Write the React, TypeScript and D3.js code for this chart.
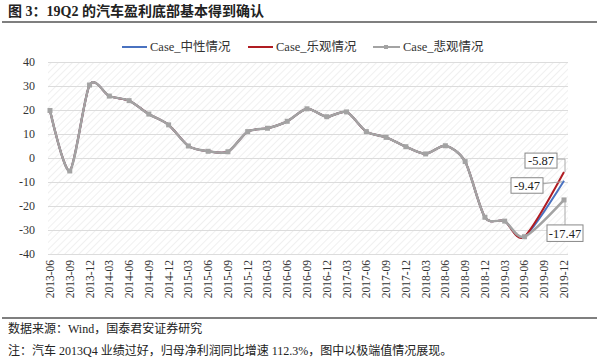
import * as d3 from "d3";

const quarters = [
  "2013-06", "2013-09", "2013-12",
  "2014-03", "2014-06", "2014-09", "2014-12",
  "2015-03", "2015-06", "2015-09", "2015-12",
  "2016-03", "2016-06", "2016-09", "2016-12",
  "2017-03", "2017-06", "2017-09", "2017-12",
  "2018-03", "2018-06", "2018-09", "2018-12",
  "2019-03", "2019-06", "2019-09", "2019-12",
];

// actual history up to 2019-06; 2019-09 is empty, 2019-12 is the scenario
const history = [
  19.8, -5.4, 30.4, 25.8, 23.9, 18.3, 13.8, 5.0, 2.8, 2.6, 11.0, 12.4, 15.3,
  20.5, 17.2, 19.2, 11.0, 8.6, 4.7, 1.7, 5.1, -1.5, -24.7, -26.3, -32.8,
];
const neutral: (number | null)[] = [...history, null, -9.47];
const optimistic: (number | null)[] = [...history, null, -5.87];
const pessimistic: (number | null)[] = [...history, null, -17.47];

const yTicks = [40, 30, 20, 10, 0, -10, -20, -30, -40];

const FONT = "'Liberation Serif', 'Times New Roman', 'Noto Sans CJK SC', serif";
const CJK = "'Liberation Serif', 'Noto Sans CJK SC', serif";
const BLUE = "#4a72c0";
const RED = "#b01c22";
const GRAY = "#a3a3a3";
const GRID = "#dcdcdc";
const INK = "#333";

const W = 600;
const H = 361;
const PL = 48;
const PR = 568;
const PT = 62;
const PB = 254;

export default function App() {
  const x = d3.scalePoint<string>().domain(quarters).range([50, 564]);
  const y = d3.scaleLinear().domain([-40, 40]).range([PB, PT]);

  const line = d3
    .line<[string, number]>()
    .x((d) => x(d[0]) as number)
    .y((d) => y(d[1]))
    .curve(d3.curveCardinal.tension(0.2));

  // Excel joins across the empty quarter, so drop the nulls
  const path = (vals: (number | null)[]) =>
    line(
      vals
        .map((v, i) => [quarters[i], v] as [string, number | null])
        .filter((d): d is [string, number] => d[1] != null)
    ) ?? "";

  const last = quarters[quarters.length - 1];
  const xe = x(last) as number;
  const yOpt = y(optimistic[optimistic.length - 1] as number);
  const yNeu = y(neutral[neutral.length - 1] as number);
  const yPes = y(pessimistic[pessimistic.length - 1] as number);

  return (
    <svg width={W} height={H} style={{ position: "absolute", left: 0, top: 0, background: "#fff" }}>
      <defs>
        <pattern id="hatch" width={5} height={5} patternUnits="userSpaceOnUse" patternTransform="rotate(45)">
          <line x1={0} y1={0} x2={0} y2={5} stroke="#e6e6e6" strokeWidth={1.2} />
        </pattern>
      </defs>

      {/* title */}
      <text x={8} y={16} fontSize={14} fontWeight={700} fill="#222" fontFamily={CJK}>
        图 3：19Q2 的汽车盈利底部基本得到确认
      </text>
      <line x1={2} x2={597} y1={22} y2={22} stroke="#555" strokeWidth={1.3} />

      {/* legend */}
      <g fontSize={12.5} fill={INK} fontFamily={CJK}>
        <line x1={122} x2={147} y1={47} y2={47} stroke={BLUE} strokeWidth={2} />
        <text x={150} y={51}>Case_中性情况</text>
        <line x1={248} x2={273} y1={47} y2={47} stroke={RED} strokeWidth={2} />
        <text x={276} y={51}>Case_乐观情况</text>
        <line x1={373} x2={400} y1={47} y2={47} stroke={GRAY} strokeWidth={2} />
        <rect x={384} y={45} width={4} height={4} fill={GRAY} />
        <text x={403} y={51}>Case_悲观情况</text>
      </g>

      {/* plot area */}
      <rect x={PL} y={PT} width={PR - PL} height={PB - PT} fill="url(#hatch)" />
      {yTicks.map((t) => (
        <g key={t}>
          <line x1={PL} x2={PR} y1={y(t)} y2={y(t)} stroke={GRID} strokeWidth={1} shapeRendering="crispEdges" />
          <text x={35} y={y(t) + 4} textAnchor="end" fontSize={12} fill={INK} fontFamily={FONT}>
            {t}
          </text>
        </g>
      ))}

      {/* x labels, rotated */}
      {quarters.map((q) => (
        <text
          key={q}
          transform={`translate(${(x(q) as number) + 4},260) rotate(-90)`}
          textAnchor="end"
          fontSize={11.5}
          fill={INK}
          fontFamily={FONT}
        >
          {q}
        </text>
      ))}

      {/* series */}
      <path d={path(neutral)} fill="none" stroke={BLUE} strokeWidth={2} />
      <path d={path(optimistic)} fill="none" stroke={RED} strokeWidth={2} />
      <path d={path(pessimistic)} fill="none" stroke={GRAY} strokeWidth={2.5} />
      {pessimistic.map((v, i) =>
        v == null ? null : (
          <rect key={i} x={(x(quarters[i]) as number) - 2.5} y={y(v) - 2.5} width={5} height={5} fill={GRAY} />
        )
      )}

      {/* callouts */}
      <g fontSize={12.5} fill="#222" fontFamily={FONT}>
        <polyline points={`557,${yOpt - 13} ${xe + 1},${yOpt - 13} ${xe + 1},${yOpt}`} fill="none" stroke="#aaa" />
        <rect x={525} y={yOpt - 19} width={32} height={15} fill="#fff" stroke="#888" />
        <text x={541} y={yOpt - 7} textAnchor="middle">{optimistic[optimistic.length - 1]}</text>

        <line x1={543} x2={xe - 2} y1={yNeu + 3} y2={yNeu + 1} stroke="#aaa" />
        <rect x={511} y={yNeu - 3} width={32} height={15.5} fill="#fff" stroke="#888" />
        <text x={527} y={yNeu + 9} textAnchor="middle">{neutral[neutral.length - 1]}</text>

        <line x1={xe + 1} x2={xe + 1} y1={yPes} y2={yPes + 25} stroke="#aaa" />
        <rect x={547} y={yPes + 25} width={36} height={16.5} fill="#fff" stroke="#888" />
        <text x={565} y={yPes + 38} textAnchor="middle">{pessimistic[pessimistic.length - 1]}</text>
      </g>

      {/* footer */}
      <line x1={2} x2={597} y1={318} y2={318} stroke="#555" strokeWidth={1.3} />
      <g fontSize={12} fill="#222" fontFamily={CJK}>
        <text x={8} y={333}>数据来源：Wind，国泰君安证券研究</text>
        <text x={8} y={355}>注：汽车 2013Q4 业绩过好，归母净利润同比增速 112.3%，图中以极端值情况展现。</text>
      </g>
    </svg>
  );
}
